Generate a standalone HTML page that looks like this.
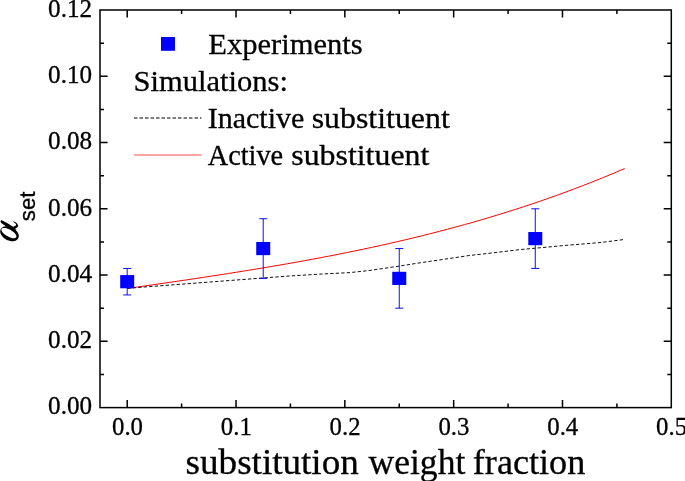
<!DOCTYPE html>
<html><head><meta charset="utf-8"><style>
html,body{margin:0;padding:0;background:#fff;width:685px;height:481px;overflow:hidden}
svg{display:block;will-change:transform}
.s{font-family:"Liberation Serif",serif;fill:#000;stroke:#000;stroke-width:0.3px}
.sbi{font-family:"Liberation Serif",serif;font-style:italic;fill:#000;stroke:#000;stroke-width:0.6px}
.ss{font-family:"Liberation Sans",sans-serif;fill:#000;stroke:#000;stroke-width:0.35px}
</style></head><body>
<svg width="685" height="481" viewBox="0 0 685 481">
<rect x="100.0" y="10.0" width="571.30" height="397.60" fill="none" stroke="#000" stroke-width="1.5"/>
<path d="M127.20 407.6v-7.6M127.20 10.0v7.6M181.61 407.6v-4.0M181.61 10.0v4.0M236.02 407.6v-7.6M236.02 10.0v7.6M290.43 407.6v-4.0M290.43 10.0v4.0M344.84 407.6v-7.6M344.84 10.0v7.6M399.25 407.6v-4.0M399.25 10.0v4.0M453.66 407.6v-7.6M453.66 10.0v7.6M508.07 407.6v-4.0M508.07 10.0v4.0M562.48 407.6v-7.6M562.48 10.0v7.6M616.89 407.6v-4.0M616.89 10.0v4.0M100.0 374.47h4.0M671.3 374.47h-4.0M100.0 341.33h7.6M671.3 341.33h-7.6M100.0 308.20h4.0M671.3 308.20h-4.0M100.0 275.07h7.6M671.3 275.07h-7.6M100.0 241.93h4.0M671.3 241.93h-4.0M100.0 208.80h7.6M671.3 208.80h-7.6M100.0 175.67h4.0M671.3 175.67h-4.0M100.0 142.53h7.6M671.3 142.53h-7.6M100.0 109.40h4.0M671.3 109.40h-4.0M100.0 76.27h7.6M671.3 76.27h-7.6M100.0 43.13h4.0M671.3 43.13h-4.0" stroke="#000" stroke-width="1.5" fill="none"/>
<text x="48.1" y="414.40" class="s" font-size="24.5" textLength="44.0" lengthAdjust="spacingAndGlyphs">0.00</text>
<text x="48.1" y="348.13" class="s" font-size="24.5" textLength="44.0" lengthAdjust="spacingAndGlyphs">0.02</text>
<text x="48.1" y="281.87" class="s" font-size="24.5" textLength="44.0" lengthAdjust="spacingAndGlyphs">0.04</text>
<text x="48.1" y="215.60" class="s" font-size="24.5" textLength="44.0" lengthAdjust="spacingAndGlyphs">0.06</text>
<text x="48.1" y="149.33" class="s" font-size="24.5" textLength="44.0" lengthAdjust="spacingAndGlyphs">0.08</text>
<text x="48.1" y="83.07" class="s" font-size="24.5" textLength="44.0" lengthAdjust="spacingAndGlyphs">0.10</text>
<text x="48.1" y="16.80" class="s" font-size="24.5" textLength="44.0" lengthAdjust="spacingAndGlyphs">0.12</text>
<text x="112.00" y="434.5" class="s" font-size="24.5" textLength="31.0" lengthAdjust="spacingAndGlyphs">0.0</text>
<text x="220.82" y="434.5" class="s" font-size="24.5" textLength="31.0" lengthAdjust="spacingAndGlyphs">0.1</text>
<text x="329.64" y="434.5" class="s" font-size="24.5" textLength="31.0" lengthAdjust="spacingAndGlyphs">0.2</text>
<text x="438.46" y="434.5" class="s" font-size="24.5" textLength="31.0" lengthAdjust="spacingAndGlyphs">0.3</text>
<text x="547.28" y="434.5" class="s" font-size="24.5" textLength="31.0" lengthAdjust="spacingAndGlyphs">0.4</text>
<text x="656.10" y="434.5" class="s" font-size="24.5" textLength="31.0" lengthAdjust="spacingAndGlyphs">0.5</text>
<polyline points="127.3,288.45 135.7,287.24 144.2,286.03 152.6,284.82 161.0,283.60 169.5,282.37 177.9,281.14 186.3,279.90 194.7,278.64 203.2,277.37 211.6,276.09 220.0,274.80 228.5,273.48 236.9,272.15 245.3,270.80 253.8,269.43 262.2,268.04 270.6,266.63 279.0,265.19 287.5,263.72 295.9,262.23 304.3,260.71 312.8,259.16 321.2,257.57 329.6,255.96 338.1,254.31 346.5,252.63 354.9,250.90 363.4,249.15 371.8,247.35 380.2,245.51 388.6,243.63 397.1,241.71 405.5,239.74 413.9,237.72 422.4,235.66 430.8,233.55 439.2,231.39 447.7,229.18 456.1,226.92 464.5,224.60 473.0,222.23 481.4,219.80 489.8,217.31 498.2,214.76 506.7,212.15 515.1,209.48 523.5,206.75 532.0,203.95 540.4,201.09 548.8,198.16 557.3,195.16 565.7,192.09 574.1,188.94 582.5,185.73 591.0,182.44 599.4,179.08 607.8,175.64 616.3,172.12 624.7,168.52" fill="none" stroke="#f00" stroke-width="1.0"/>
<polyline points="127.3,288.3 205,282.4 285,276.3 320,274.1 350,272.6 370,270.4 400,266 420,262.8 450,258.4 470,255.4 490,253.2 520,249.6 570,245 600,242.6 623.5,239.6" fill="none" stroke="#000" stroke-width="0.95" stroke-dasharray="3.3 2.2"/>
<path d="M127.20 268.44V294.95M123.20 268.44h8M123.20 294.95h8" stroke="#00f" stroke-width="0.95" fill="none"/>
<rect x="120.20" y="275.09" width="14" height="13.2" fill="#00f"/>
<path d="M263.23 218.74V278.38M259.23 218.74h8M259.23 278.38h8" stroke="#00f" stroke-width="0.95" fill="none"/>
<rect x="256.23" y="241.96" width="14" height="13.2" fill="#00f"/>
<path d="M399.25 248.56V308.20M395.25 248.56h8M395.25 308.20h8" stroke="#00f" stroke-width="0.95" fill="none"/>
<rect x="392.25" y="271.78" width="14" height="13.2" fill="#00f"/>
<path d="M535.28 208.80V268.44M531.28 208.80h8M531.28 268.44h8" stroke="#00f" stroke-width="0.95" fill="none"/>
<rect x="528.28" y="232.02" width="14" height="13.2" fill="#00f"/>
<rect x="161" y="37" width="14" height="13.8" fill="#00f"/>
<text x="208.25" y="53.7" class="s" font-size="29" textLength="154.5" lengthAdjust="spacingAndGlyphs">Experiments</text>
<text x="133.6" y="90.8" class="s" font-size="29" textLength="154.4" lengthAdjust="spacingAndGlyphs">Simulations:</text>
<line x1="134" y1="118" x2="201.5" y2="118" stroke="#000" stroke-width="1.05" stroke-dasharray="3.5 2.0"/>
<text x="207.7" y="128.1" class="s" font-size="29" textLength="96.7" lengthAdjust="spacingAndGlyphs">Inactive</text>
<text x="311.7" y="128.1" class="s" font-size="29" textLength="138.1" lengthAdjust="spacingAndGlyphs">substituent</text>
<line x1="134" y1="155" x2="201.5" y2="155" stroke="#f00" stroke-width="0.7"/>
<text x="207.7" y="164.8" class="s" font-size="29" textLength="75.5" lengthAdjust="spacingAndGlyphs">Active</text>
<text x="291.3" y="164.8" class="s" font-size="29" textLength="138.0" lengthAdjust="spacingAndGlyphs">substituent</text>
<text x="185.6" y="473.6" class="s" font-size="35" textLength="173.2" lengthAdjust="spacingAndGlyphs">substitution</text>
<text x="368.5" y="473.6" class="s" font-size="35" textLength="96.8" lengthAdjust="spacingAndGlyphs">weight</text>
<text x="472.8" y="473.6" class="s" font-size="35" textLength="112.5" lengthAdjust="spacingAndGlyphs">fraction</text>
<path d="M18.26 238.32 L17.77 239.05 L17.15 239.69 L16.39 240.23 L15.52 240.66 L14.55 240.97 L13.48 241.16 L12.35 241.21 L11.17 241.14 L9.96 240.94 L8.75 240.62 L7.55 240.18 L6.38 239.63 L5.26 238.97 L4.22 238.23 L3.26 237.41 L2.42 236.52 L1.69 235.59 L1.10 234.63 L0.65 233.64 L0.35 232.66 L0.21 231.70 L0.23 230.77 L0.41 229.90 L0.74 229.08 L1.23 228.35 L1.85 227.71 L2.61 227.17 L3.48 226.74 L4.45 226.43 L5.52 226.24 L6.65 226.19 L7.83 226.26 L9.04 226.46 L10.25 226.78 L11.45 227.22 L12.62 227.77 L13.74 228.43 L14.78 229.17 L15.74 229.99 L16.58 230.88 L17.31 231.81 L17.90 232.77 L18.35 233.76 L18.65 234.74 L18.79 235.70 L18.77 236.63 L18.59 237.50Z M16.24 237.24 L15.95 237.59 L15.55 237.87 L15.03 238.06 L14.40 238.17 L13.68 238.20 L12.88 238.13 L12.01 237.98 L11.09 237.74 L10.13 237.42 L9.15 237.03 L8.16 236.57 L7.19 236.05 L6.25 235.47 L5.35 234.86 L4.51 234.22 L3.75 233.55 L3.08 232.88 L2.50 232.21 L2.04 231.55 L1.69 230.92 L1.46 230.33 L1.37 229.78 L1.40 229.29 L1.56 228.86 L1.85 228.51 L2.25 228.23 L2.77 228.04 L3.40 227.93 L4.12 227.90 L4.92 227.97 L5.79 228.12 L6.71 228.36 L7.67 228.68 L8.65 229.07 L9.64 229.53 L10.61 230.05 L11.55 230.63 L12.45 231.24 L13.29 231.88 L14.05 232.55 L14.72 233.22 L15.30 233.89 L15.76 234.55 L16.11 235.18 L16.34 235.77 L16.43 236.32 L16.40 236.81Z" fill-rule="evenodd" fill="#000"/><path d="M1.2 219.9 C3 220.7 5 221.7 8.3 223.7 L11 225.5 L14.5 227.5 L16.5 229.5 L13 230 L8 227.5 L5 225.7 L1 222.7 L0.5 221.2Z M13.2 221.2 C15 221.6 17.3 222.8 18.1 225.4 C18.3 226.8 17.3 227.6 15 228.2 L13.5 226.5 C15.2 226.2 16.3 225.5 16.1 224.6 C15.8 223.4 14.6 222.6 13.3 221.9Z" fill="#000"/>
<g transform="translate(19 242.5) rotate(-90)"><text x="21.3" y="15.6" class="ss" font-size="22.3" textLength="29.6" lengthAdjust="spacingAndGlyphs">set</text></g>
</svg>
</body></html>
